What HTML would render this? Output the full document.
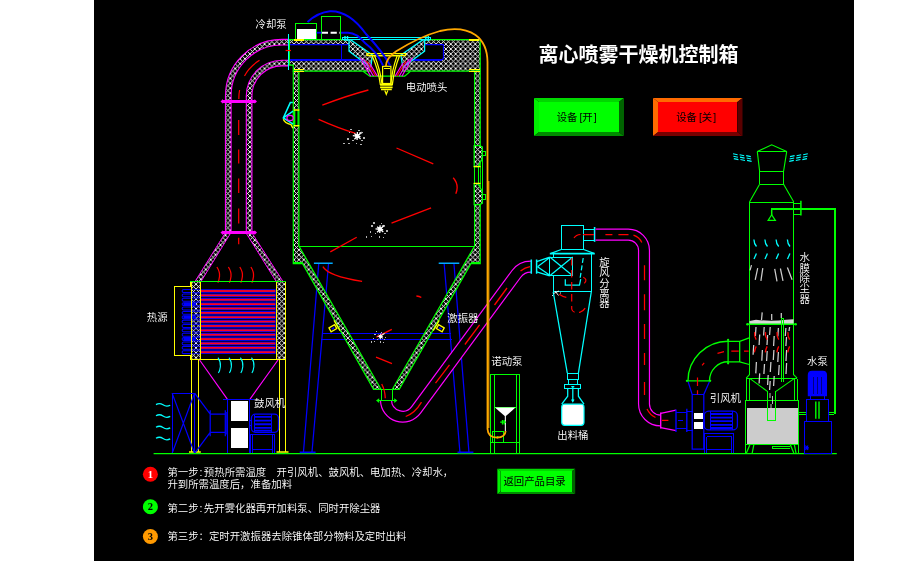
<!DOCTYPE html>
<html lang="zh"><head><meta charset="utf-8"><title>离心喷雾干燥机控制箱</title>
<style>
html,body{margin:0;padding:0;background:#fff;overflow:hidden}
body{width:899px;height:568px;position:relative;font-family:"Liberation Sans","Noto Sans CJK SC",sans-serif}
svg{position:absolute;left:0;top:0;display:block}
text{font-family:"Liberation Sans","Noto Sans CJK SC",sans-serif}
.lb{font-size:10.4px;fill:#fff;font-weight:350}
text{filter:grayscale(1)}
.g{stroke:#0f0;fill:none}.y{stroke:#ff0;fill:none}.b{stroke:#00f;fill:none}
.m{stroke:#f0f;fill:none}.c{stroke:#0ff;fill:none}.r{stroke:#f00;fill:none}
.o{stroke:#ffb000;fill:none}.w{stroke:#ddd;fill:none}
.h{fill:url(#hatch)}
</style></head><body>
<svg shape-rendering="geometricPrecision" width="899" height="568" viewBox="0 0 899 568">
<defs>
<pattern id="hatch" width="4.9" height="4.9" patternUnits="userSpaceOnUse">
<rect width="4.9" height="4.9" fill="#000"/>
<path d="M0 0L4.9 4.9M4.9 0L0 4.9" stroke="#fff" stroke-width="0.92"/>
</pattern>
</defs>
<rect shape-rendering="crispEdges" stroke-width="1" x="94" y="0" width="760" height="561" fill="#000"/>

<g id="hotpipe" fill="none" shape-rendering="geometricPrecision">
<path d="M288.3 52.6L282 52.6A43.3 43.3 0 0 0 238.7 95.9L238.7 233" stroke="#f0f" stroke-width="27.6"/>
<path d="M288.3 52.6L282 52.6A43.3 43.3 0 0 0 238.7 95.9L238.7 233" stroke="url(#hatch)" stroke-width="25.4"/>
<path d="M288.3 52.6L282 52.6A43.3 43.3 0 0 0 238.7 95.9L238.7 233" stroke="#f0f" stroke-width="16.3"/>
<path d="M288.3 52.6L282 52.6A43.3 43.3 0 0 0 238.7 95.9L238.7 233" stroke="#000" stroke-width="14.1"/>
<path class="m h" d="M225.2 233L230.7 233L201 281.5L195 281.5Z"/>
<path class="m h" d="M246.1 233L252 233L283 281.5L276.2 281.5Z"/>
<path d="M222.5 101.4L255 101.4" stroke="#f0f" stroke-width="3"/>
<path d="M220.5 101.4l2.5 -2.3v4.6zM257 101.4l-2.5 -2.3v4.6z" fill="#f0f"/>
<path d="M222.5 232.6L255 232.6" stroke="#f0f" stroke-width="3"/>
<path d="M220.5 232.6l2.5 -2.3v4.6zM257 232.6l-2.5 -2.3v4.6z" fill="#f0f"/>
<path class="r" stroke-width="1.2" d="M259.5 60.2Q249 67 244.5 76M239.6 90Q238.8 94 238.8 99M238.7 120V135M238.7 149.4V163.6M238.7 178.6V193M238.7 208.4V223.4M238.7 237.7V244.3"/>
<g shape-rendering="geometricPrecision">
<path class="r" stroke-width="1.25" d="M216.9 267q3.2 5 2.6 9.5t-1.6 6.3"/>
<path class="r" stroke-width="1.25" d="M228.4 267q3.2 5 2.6 9.5t-1.6 6.3"/>
<path class="r" stroke-width="1.25" d="M239.8 267q3.2 5 2.6 9.5t-1.6 6.3"/>
<path class="r" stroke-width="1.25" d="M250.9 267q3.2 5 2.6 9.5t-1.6 6.3"/>
</g>
</g>
<g id="heater" fill="none" stroke-width="1.25">
<g shape-rendering="geometricPrecision">
<rect shape-rendering="geometricPrecision" x="200.3" y="289.20" width="75.2" height="3.6" fill="#00f"/>
<rect shape-rendering="geometricPrecision" x="200.3" y="290.10" width="75.2" height="1.8" fill="#ff0018"/>
<rect shape-rendering="geometricPrecision" x="200.3" y="293.57" width="75.2" height="3.6" fill="#00f"/>
<rect shape-rendering="geometricPrecision" x="200.3" y="294.47" width="75.2" height="1.8" fill="#ff0018"/>
<rect shape-rendering="geometricPrecision" x="200.3" y="297.94" width="75.2" height="3.6" fill="#00f"/>
<rect shape-rendering="geometricPrecision" x="200.3" y="298.84" width="75.2" height="1.8" fill="#ff0018"/>
<rect shape-rendering="geometricPrecision" x="200.3" y="302.31" width="75.2" height="3.6" fill="#00f"/>
<rect shape-rendering="geometricPrecision" x="200.3" y="303.21" width="75.2" height="1.8" fill="#ff0018"/>
<rect shape-rendering="geometricPrecision" x="200.3" y="306.68" width="75.2" height="3.6" fill="#00f"/>
<rect shape-rendering="geometricPrecision" x="200.3" y="307.58" width="75.2" height="1.8" fill="#ff0018"/>
<rect shape-rendering="geometricPrecision" x="200.3" y="311.05" width="75.2" height="3.6" fill="#00f"/>
<rect shape-rendering="geometricPrecision" x="200.3" y="311.95" width="75.2" height="1.8" fill="#ff0018"/>
<rect shape-rendering="geometricPrecision" x="200.3" y="315.42" width="75.2" height="3.6" fill="#00f"/>
<rect shape-rendering="geometricPrecision" x="200.3" y="316.32" width="75.2" height="1.8" fill="#ff0018"/>
<rect shape-rendering="geometricPrecision" x="200.3" y="319.79" width="75.2" height="3.6" fill="#00f"/>
<rect shape-rendering="geometricPrecision" x="200.3" y="320.69" width="75.2" height="1.8" fill="#ff0018"/>
<rect shape-rendering="geometricPrecision" x="200.3" y="324.16" width="75.2" height="3.6" fill="#00f"/>
<rect shape-rendering="geometricPrecision" x="200.3" y="325.06" width="75.2" height="1.8" fill="#ff0018"/>
<rect shape-rendering="geometricPrecision" x="200.3" y="328.53" width="75.2" height="3.6" fill="#00f"/>
<rect shape-rendering="geometricPrecision" x="200.3" y="329.43" width="75.2" height="1.8" fill="#ff0018"/>
<rect shape-rendering="geometricPrecision" x="200.3" y="332.90" width="75.2" height="3.6" fill="#00f"/>
<rect shape-rendering="geometricPrecision" x="200.3" y="333.80" width="75.2" height="1.8" fill="#ff0018"/>
<rect shape-rendering="geometricPrecision" x="200.3" y="337.27" width="75.2" height="3.6" fill="#00f"/>
<rect shape-rendering="geometricPrecision" x="200.3" y="338.17" width="75.2" height="1.8" fill="#ff0018"/>
<rect shape-rendering="geometricPrecision" x="200.3" y="341.64" width="75.2" height="3.6" fill="#00f"/>
<rect shape-rendering="geometricPrecision" x="200.3" y="342.54" width="75.2" height="1.8" fill="#ff0018"/>
<rect shape-rendering="geometricPrecision" x="200.3" y="346.01" width="75.2" height="3.6" fill="#00f"/>
<rect shape-rendering="geometricPrecision" x="200.3" y="346.91" width="75.2" height="1.8" fill="#ff0018"/>
<rect shape-rendering="geometricPrecision" x="200.3" y="350.38" width="75.2" height="3.6" fill="#00f"/>
<rect shape-rendering="geometricPrecision" x="200.3" y="351.28" width="75.2" height="1.8" fill="#ff0018"/>
<path class="b" stroke-width="0.9" d="M276 288.5V354"/>
</g>
<rect class="h" x="191.6" y="281.6" width="9" height="78.3" stroke="none"/>
<rect class="h" x="276.7" y="281.6" width="9" height="78.3" stroke="none"/>
<g shape-rendering="geometricPrecision" fill="none" stroke="#00f">
<path stroke-width="1.05" d="M191.6 289.55H183.6a1.45 1.45 0 0 0 0 2.9H191.6"/>
<path shape-rendering="geometricPrecision" stroke-width="0.8" d="M191.6 289.55H200.3M191.6 292.45H200.3"/>
<path stroke-width="1.05" d="M191.6 293.92H183.6a1.45 1.45 0 0 0 0 2.9H191.6"/>
<path shape-rendering="geometricPrecision" stroke-width="0.8" d="M191.6 293.92H200.3M191.6 296.82H200.3"/>
<path stroke-width="1.05" d="M191.6 298.29H183.6a1.45 1.45 0 0 0 0 2.9H191.6"/>
<path shape-rendering="geometricPrecision" stroke-width="0.8" d="M191.6 298.29H200.3M191.6 301.19H200.3"/>
<path stroke-width="1.05" d="M191.6 302.66H183.6a1.45 1.45 0 0 0 0 2.9H191.6"/>
<path shape-rendering="geometricPrecision" stroke-width="0.8" d="M191.6 302.66H200.3M191.6 305.56H200.3"/>
<path shape-rendering="geometricPrecision" stroke-width="2.6" d="M183.5 304.11H196"/>
<path stroke-width="1.05" d="M191.6 307.03H183.6a1.45 1.45 0 0 0 0 2.9H191.6"/>
<path shape-rendering="geometricPrecision" stroke-width="0.8" d="M191.6 307.03H200.3M191.6 309.93H200.3"/>
<path stroke-width="1.05" d="M191.6 311.40H183.6a1.45 1.45 0 0 0 0 2.9H191.6"/>
<path shape-rendering="geometricPrecision" stroke-width="0.8" d="M191.6 311.40H200.3M191.6 314.30H200.3"/>
<path stroke-width="1.05" d="M191.6 315.77H183.6a1.45 1.45 0 0 0 0 2.9H191.6"/>
<path shape-rendering="geometricPrecision" stroke-width="0.8" d="M191.6 315.77H200.3M191.6 318.67H200.3"/>
<path shape-rendering="geometricPrecision" stroke-width="2.6" d="M183.5 317.22H196"/>
<path stroke-width="1.05" d="M191.6 320.14H183.6a1.45 1.45 0 0 0 0 2.9H191.6"/>
<path shape-rendering="geometricPrecision" stroke-width="0.8" d="M191.6 320.14H200.3M191.6 323.04H200.3"/>
<path stroke-width="1.05" d="M191.6 324.51H183.6a1.45 1.45 0 0 0 0 2.9H191.6"/>
<path shape-rendering="geometricPrecision" stroke-width="0.8" d="M191.6 324.51H200.3M191.6 327.41H200.3"/>
<path stroke-width="1.05" d="M191.6 328.88H183.6a1.45 1.45 0 0 0 0 2.9H191.6"/>
<path shape-rendering="geometricPrecision" stroke-width="0.8" d="M191.6 328.88H200.3M191.6 331.78H200.3"/>
<path stroke-width="1.05" d="M191.6 333.25H183.6a1.45 1.45 0 0 0 0 2.9H191.6"/>
<path shape-rendering="geometricPrecision" stroke-width="0.8" d="M191.6 333.25H200.3M191.6 336.15H200.3"/>
<path stroke-width="1.05" d="M191.6 337.62H183.6a1.45 1.45 0 0 0 0 2.9H191.6"/>
<path shape-rendering="geometricPrecision" stroke-width="0.8" d="M191.6 337.62H200.3M191.6 340.52H200.3"/>
<path shape-rendering="geometricPrecision" stroke-width="2.6" d="M183.5 339.07H196"/>
<path stroke-width="1.05" d="M191.6 341.99H183.6a1.45 1.45 0 0 0 0 2.9H191.6"/>
<path shape-rendering="geometricPrecision" stroke-width="0.8" d="M191.6 341.99H200.3M191.6 344.89H200.3"/>
<path stroke-width="1.05" d="M191.6 346.36H183.6a1.45 1.45 0 0 0 0 2.9H191.6"/>
<path shape-rendering="geometricPrecision" stroke-width="0.8" d="M191.6 346.36H200.3M191.6 349.26H200.3"/>
<path stroke-width="1.05" d="M191.6 350.73H183.6a1.45 1.45 0 0 0 0 2.9H191.6"/>
<path shape-rendering="geometricPrecision" stroke-width="0.8" d="M191.6 350.73H200.3M191.6 353.63H200.3"/>
</g>
<path shape-rendering="crispEdges" stroke-width="1" class="y" d="M191.6 281.6V359.9M200.6 281.6V359.9M276.7 281.6V359.9M285.7 281.6V359.9"/>
<path shape-rendering="crispEdges" class="y" stroke-width="2" d="M191.2 282V286.8M191.2 355V360"/>
<path shape-rendering="crispEdges" stroke-width="1" class="y" d="M191.6 286.4H174.3V355.4H191.6"/>
<path shape-rendering="crispEdges" stroke-width="1" class="g" d="M190.4 281.6H286"/>
<path shape-rendering="crispEdges" stroke-width="1" class="y" d="M190 359.9H286"/>
<path shape-rendering="crispEdges" stroke-width="1" class="y" d="M191.3 360V452M198.5 360V452M279.4 360V452M285.8 360V452"/>
<path class="y" stroke-width="1.6" d="M189 452H200.8M276.5 452H288.5"/>
<g shape-rendering="geometricPrecision"><path class="m" stroke-width="1.15" d="M199.6 360L227.3 399.2M278 360L250 399.2"/></g>
<g shape-rendering="geometricPrecision">
<path class="c" stroke-width="1.1" d="M218.0 357.6q3 4.5 2.4 9t-2 6.4"/>
<path class="c" stroke-width="1.1" d="M229.0 357.6q3 4.5 2.4 9t-2 6.4"/>
<path class="c" stroke-width="1.1" d="M240.39999999999998 357.6q3 4.5 2.4 9t-2 6.4"/>
<path class="c" stroke-width="1.1" d="M251.5 357.6q3 4.5 2.4 9t-2 6.4"/>
</g>
</g>
<g id="blower" fill="none" stroke="#00f" stroke-width="1.25">
<rect shape-rendering="crispEdges" stroke-width="1" x="172.1" y="393.1" width="22.5" height="60.3"/>
<path d="M172.1 393.1L194.6 453.4M194.6 393.1L172.1 453.4"/>
<path d="M194.6 393.1L210.2 414.2M194.6 453.4L210.2 432.3M210.2 410.2V436.3M210.2 414.2H225.3M210.2 432.3H225.3M225.3 410.2V436.3M226.9 412V434.5"/>
<path shape-rendering="crispEdges" stroke-width="1" d="M223.3 399.2H254.4"/>
<rect shape-rendering="crispEdges" stroke-width="1" x="227.7" y="399.2" width="22.1" height="54.2"/>
<rect shape-rendering="crispEdges" stroke-width="1" x="230.9" y="401.2" width="17.5" height="19.4" fill="#fff" stroke="none"/>
<rect shape-rendering="crispEdges" stroke-width="1" x="230.9" y="428.3" width="17.5" height="19.7" fill="#fff" stroke="none"/>
<rect x="251.4" y="414.2" width="27.1" height="18.1" rx="4" stroke-width="1.3" shape-rendering="geometricPrecision"/>
<path shape-rendering="crispEdges" stroke-width="1" d="M249.8 420.5H251.4M249.8 425.5H251.4M271.4 414.2V432.3M254 414.5V432"/>
<path stroke-width="1.9" d="M254.4 416.9H271.4M254.4 420.6H271.4M254.4 424.3H271.4M254.4 427.9H271.4M254.4 430.6H271.4"/>
<path shape-rendering="crispEdges" stroke-width="1" d="M250.4 434.3H274V453.4M250.4 434.3V453.4M252 434.3V453.4M272.4 434.3V453.4M252 449.7H272.4"/>
</g>
<g shape-rendering="geometricPrecision">
<path class="c" stroke-width="1.3" d="M156 404.6q3.5 -2.2 7 0.2t7.2 0.4"/>
<path class="c" stroke-width="1.3" d="M156 415.8q3.5 -2.2 7 0.2t7.2 0.4"/>
<path class="c" stroke-width="1.3" d="M156 427.3q3.5 -2.2 7 0.2t7.2 0.4"/>
<path class="c" stroke-width="1.3" d="M156 438.3q3.5 -2.2 7 0.2t7.2 0.4"/>
</g>
<path class="g" stroke-width="1.3" d="M153.6 453.6H836.8"/>
<g id="tower" fill="none" stroke-width="1.25">
<g stroke="#00f">
<path d="M318.8 263L303.4 453M328.6 263L311.9 453M444.1 263L460 453M453.9 263L469 453"/>
<path stroke-width="1.4" d="M313.9 263.2H332.7M438.7 263.2H459.3" stroke="#0af"/>
<path shape-rendering="crispEdges" stroke-width="1" d="M321.9 333.5H451M321.4 339.6H451.5"/>
<path stroke-width="1.6" d="M299.7 452.4H315.6M457.5 452.4H473.4"/>
</g>
<path class="g h" d="M289.2 39.5H480.2V71.2H293.3V65.2H289.2Z"/>
<path d="M289.6 44.6H443.5V58.6L441.5 60H289.6Z" fill="#000" stroke="none"/>
<path class="b" d="M289.6 44.6H443.5V58.6L441 60.3"/>
<path shape-rendering="crispEdges" class="b" stroke-width="2" d="M289.6 60H361M441.5 60H413"/>
<path shape-rendering="crispEdges" stroke-width="1" class="b" d="M341.3 44.6V60"/>
<path class="g h" d="M293.3 71.2H298.9V246L381 389.3H373.6L302.6 263.6H293.3Z"/>
<path class="g h" d="M480.2 71.2H474.6V246L392.4 389.3H399.2L470.9 263.6H480.2Z"/>
<path shape-rendering="crispEdges" stroke-width="1" class="g" d="M293.3 262H302.5M480.2 262H471.2"/>
<path shape-rendering="crispEdges" stroke-width="1" class="g" d="M298.9 246H474.6"/>
<path shape-rendering="crispEdges" stroke-width="1" class="g" d="M373.6 389.3H399.2"/>
<path shape-rendering="crispEdges" stroke-width="1" class="c" d="M288.3 34V69.8"/>
<path shape-rendering="crispEdges" stroke-width="1" class="g" d="M289.2 38.8V65.2"/>
<path shape-rendering="crispEdges" stroke-width="1" class="y" d="M294 69.6H303.6M294 71.4H303.6M469 69.6H479.6M469 71.4H479.6"/>
<g shape-rendering="geometricPrecision" fill="none">
<rect shape-rendering="crispEdges" stroke-width="1" x="293.6" y="109.4" width="5" height="17.3" fill="#000"/>
<path class="c" stroke-width="1.5" d="M292.8 102.6H290.3L283.3 117.9L293.1 124.2M283.3 117.9L293.1 111.2"/>
<path class="y" stroke-width="1.3" d="M283.3 119.3Q284.5 123 291 124.6L292.8 128.1"/>
<ellipse cx="290.1" cy="118" rx="3.2" ry="2.6" stroke="#f0f" stroke-width="1.2"/>
<path class="g" stroke-width="1.5" d="M294.6 109.4V126.7M298.2 109.4V126.7"/>
<path class="y" stroke-width="1.5" d="M293.8 109.9H299.3M293.8 125.7H299.3"/>
</g>
<g shape-rendering="geometricPrecision" fill="none">
<rect shape-rendering="crispEdges" stroke-width="1" x="474.6" y="166.5" width="5.6" height="17.2" fill="#000"/>
<path class="g h" d="M474.2 145.6H479.4L482.3 146.8V158.5L478 166.5H474.2Z"/>
<path class="g h" d="M474.2 183.7H478L482.3 191.7V203.4L479.4 204.6H474.2Z"/>
<path shape-rendering="crispEdges" stroke-width="1" class="g" d="M482.3 146.8V203.4M474.9 166.5V183.7M478 166.5V183.7"/>
<path shape-rendering="crispEdges" stroke-width="1" class="g" d="M482.3 151.1H485.4V155.4H482.3M482.3 194.8H485.4V199.1H482.3"/>
<path class="y" stroke-width="1.3" d="M473.7 166.7H480.5M473.7 183.3H480.5"/>
</g>
<g stroke="#ff0" stroke-width="1.3" fill="none" shape-rendering="geometricPrecision">
<path d="M329 327.9L334.6 324.7L336.8 328.6L331.1 331.8Z"/>
<path d="M444.2 327.9L438.6 324.7L436.4 328.6L442.1 331.8Z"/>
<path d="M334 320.3L340 330.6M439.2 320.3L433.2 330.6"/>
<path stroke="#00f" stroke-width="1.7" d="M331.8 329.1L334.2 327.6M441.4 329.1L439 327.6"/>
</g>
<path class="r" shape-rendering="geometricPrecision" stroke-width="1.3" d="M322.3 105.2Q346 96 368.4 90M318.6 119.3Q338 128 355.6 133.3M396.5 148L433.3 163.8M453.2 177.8Q459.5 185 455.8 193.7M431.1 207.8L391.5 223.2M356.7 237.2L330.3 251.9M322.9 266.6Q328 276 362.1 281.3M416.4 296Q419.5 296.2 421.3 297.6M391.8 329.3L376.4 337.2M376 357.2L392 363.6M381.7 384Q385 390 385.3 398.3"/>
</g>
<g shape-rendering="geometricPrecision" transform="translate(358 135.4) scale(1.0) translate(-358 -135.4)"><circle cx="357.2" cy="136.0" r="2.3" fill="#dcdcdc"/><path stroke="#fff" stroke-width="1.3" fill="none" d="M352.8 135.70000000000002L360.5 136.6M357.4 132.1L357.1 140.0M354.4 133.6L360.6 139.0M361.6 132.20000000000002L354.4 139.20000000000002"/><path stroke="#e0e0e0" stroke-width="1.5" fill="none" d="M359.2 133.20000000000002L362.2 132.6"/><rect shape-rendering="crispEdges" stroke-width="1" x="343.25" y="142.95" width="1.5" height="1.5" fill="#b4b4b4"/><rect shape-rendering="crispEdges" stroke-width="1" x="348.05" y="142.65" width="1.5" height="1.5" fill="#b4b4b4"/><rect shape-rendering="crispEdges" stroke-width="1" x="347.15" y="138.15" width="1.5" height="1.5" fill="#b4b4b4"/><rect shape-rendering="crispEdges" stroke-width="1" x="352.25" y="139.65" width="1.5" height="1.5" fill="#b4b4b4"/><rect shape-rendering="crispEdges" stroke-width="1" x="355.85" y="142.95" width="1.5" height="1.5" fill="#b4b4b4"/><rect shape-rendering="crispEdges" stroke-width="1" x="360.05" y="143.55" width="1.5" height="1.5" fill="#b4b4b4"/><rect shape-rendering="crispEdges" stroke-width="1" x="363.35" y="137.25" width="1.5" height="1.5" fill="#b4b4b4"/><rect shape-rendering="crispEdges" stroke-width="1" x="361.35" y="139.65" width="1.5" height="1.5" fill="#b4b4b4"/><rect shape-rendering="crispEdges" stroke-width="1" x="350.45" y="128.95" width="1.5" height="1.5" fill="#b4b4b4"/><rect shape-rendering="crispEdges" stroke-width="1" x="348.65" y="131.95" width="1.5" height="1.5" fill="#b4b4b4"/><rect shape-rendering="crispEdges" stroke-width="1" x="358.25" y="129.75" width="1.5" height="1.5" fill="#b4b4b4"/><rect shape-rendering="crispEdges" stroke-width="1" x="361.25" y="131.65" width="1.5" height="1.5" fill="#b4b4b4"/></g>
<g shape-rendering="geometricPrecision" transform="translate(380.7 228.5) scale(1.0) translate(-380.7 -228.5)"><circle cx="379.9" cy="229.1" r="2.3" fill="#dcdcdc"/><path stroke="#fff" stroke-width="1.3" fill="none" d="M375.5 228.8L383.2 229.7M380.09999999999997 225.2L379.8 233.1M377.09999999999997 226.7L383.3 232.1M384.3 225.3L377.09999999999997 232.3"/><path stroke="#e0e0e0" stroke-width="1.5" fill="none" d="M381.9 226.3L384.9 225.7"/><rect shape-rendering="crispEdges" stroke-width="1" x="365.95" y="236.05" width="1.5" height="1.5" fill="#b4b4b4"/><rect shape-rendering="crispEdges" stroke-width="1" x="370.75" y="235.75" width="1.5" height="1.5" fill="#b4b4b4"/><rect shape-rendering="crispEdges" stroke-width="1" x="369.85" y="231.25" width="1.5" height="1.5" fill="#b4b4b4"/><rect shape-rendering="crispEdges" stroke-width="1" x="374.95" y="232.75" width="1.5" height="1.5" fill="#b4b4b4"/><rect shape-rendering="crispEdges" stroke-width="1" x="378.55" y="236.05" width="1.5" height="1.5" fill="#b4b4b4"/><rect shape-rendering="crispEdges" stroke-width="1" x="382.75" y="236.65" width="1.5" height="1.5" fill="#b4b4b4"/><rect shape-rendering="crispEdges" stroke-width="1" x="386.05" y="230.35" width="1.5" height="1.5" fill="#b4b4b4"/><rect shape-rendering="crispEdges" stroke-width="1" x="384.05" y="232.75" width="1.5" height="1.5" fill="#b4b4b4"/><rect shape-rendering="crispEdges" stroke-width="1" x="373.15" y="222.05" width="1.5" height="1.5" fill="#b4b4b4"/><rect shape-rendering="crispEdges" stroke-width="1" x="371.35" y="225.05" width="1.5" height="1.5" fill="#b4b4b4"/><rect shape-rendering="crispEdges" stroke-width="1" x="380.95" y="222.85" width="1.5" height="1.5" fill="#b4b4b4"/><rect shape-rendering="crispEdges" stroke-width="1" x="383.95" y="224.75" width="1.5" height="1.5" fill="#b4b4b4"/></g>
<g shape-rendering="geometricPrecision" transform="translate(381.2 336) scale(0.72) translate(-381.2 -336)"><circle cx="380.4" cy="336.6" r="2.3" fill="#dcdcdc"/><path stroke="#fff" stroke-width="1.3" fill="none" d="M376.0 336.3L383.7 337.2M380.59999999999997 332.7L380.3 340.6M377.59999999999997 334.2L383.8 339.6M384.8 332.8L377.59999999999997 339.8"/><path stroke="#e0e0e0" stroke-width="1.5" fill="none" d="M382.4 333.8L385.4 333.2"/><rect shape-rendering="crispEdges" stroke-width="1" x="366.45" y="343.55" width="1.5" height="1.5" fill="#b4b4b4"/><rect shape-rendering="crispEdges" stroke-width="1" x="371.25" y="343.25" width="1.5" height="1.5" fill="#b4b4b4"/><rect shape-rendering="crispEdges" stroke-width="1" x="370.35" y="338.75" width="1.5" height="1.5" fill="#b4b4b4"/><rect shape-rendering="crispEdges" stroke-width="1" x="375.45" y="340.25" width="1.5" height="1.5" fill="#b4b4b4"/><rect shape-rendering="crispEdges" stroke-width="1" x="379.05" y="343.55" width="1.5" height="1.5" fill="#b4b4b4"/><rect shape-rendering="crispEdges" stroke-width="1" x="383.25" y="344.15" width="1.5" height="1.5" fill="#b4b4b4"/><rect shape-rendering="crispEdges" stroke-width="1" x="386.55" y="337.85" width="1.5" height="1.5" fill="#b4b4b4"/><rect shape-rendering="crispEdges" stroke-width="1" x="384.55" y="340.25" width="1.5" height="1.5" fill="#b4b4b4"/><rect shape-rendering="crispEdges" stroke-width="1" x="373.65" y="329.55" width="1.5" height="1.5" fill="#b4b4b4"/><rect shape-rendering="crispEdges" stroke-width="1" x="371.85" y="332.55" width="1.5" height="1.5" fill="#b4b4b4"/><rect shape-rendering="crispEdges" stroke-width="1" x="381.45" y="330.35" width="1.5" height="1.5" fill="#b4b4b4"/><rect shape-rendering="crispEdges" stroke-width="1" x="384.45" y="332.25" width="1.5" height="1.5" fill="#b4b4b4"/></g>
<g id="atomizer" fill="none" stroke-width="1.25">
<path d="M349 39.6H424.6V51.2L403 67.3L400 76H372L370.7 67.3L349 51.2Z" fill="#000" stroke="none"/>
<path class="c h" d="M349 39.9V51.2L370.7 67.3L372.5 55L350.8 39.9Z"/>
<path class="c h" d="M424.6 39.9V51.2L402.8 67.3L400.9 55L422.7 39.9Z"/>
<path d="M363.1 71.2L369.7 76.2H404.7L410.4 71.2" class="g" fill="#000"/>
<path class="m" stroke-width="1.2" d="M360.3 57.8L370.7 76.2M363.3 58.8L373.5 76.2M412.3 57.8L401.9 76.2M409.3 58.8L399.2 76.2"/>
<path class="r" stroke-width="1.2" d="M366.6 61L375.8 76.2M406 61L396.8 76.2"/>
<path class="m" stroke-width="1.2" d="M369.5 63L377.5 76.2M403 63L395 76.2"/>
<path shape-rendering="crispEdges" stroke-width="1" class="c" d="M342.9 37.4H430.2V39.6H342.9Z"/>
<path class="c" stroke-width="1.4" d="M345 36V41M347.5 36V41M425.8 36V41M428.3 36V41"/>
<path d="M372 55.6Q378.5 70 380.3 84.3H392.4Q394 70 399.6 55.6Z" fill="#000" class="y"/>
<path class="y" stroke-width="1.3" d="M366.9 53.7H405.6V55.6H366.9Z"/>
<path class="y" d="M374.5 55.6Q380.3 70 382 84.3M397.2 55.6Q392 70 390.8 84.3"/>
<rect x="382.6" y="66.3" width="8.3" height="17.2" class="y" stroke-width="1.2"/>
<path shape-rendering="crispEdges" stroke-width="1" class="y" d="M384 68.8H389.5"/>
<path class="y" stroke-width="1.7" d="M380.1 85H392.6M380.1 87.3H392.6M381 89.5H391.8"/>
<path class="y" stroke-width="1.2" d="M384.8 90.5L386.3 94.3L387.8 90.5"/>
<path class="b" shape-rendering="geometricPrecision" stroke-width="2" d="M307.5 22Q318 12.5 330 11.3Q349 10.5 366 34Q383 52 390.2 65.6"/>
<path class="b" shape-rendering="geometricPrecision" stroke-width="2" d="M340 32.7H348Q357 33 365 43Q377 52 383 65.6"/>
</g>
<g id="coolpump" fill="none" stroke-width="1.25">
<rect shape-rendering="crispEdges" stroke-width="1" class="g" x="295" y="23" width="21.6" height="16.4"/>
<rect shape-rendering="crispEdges" stroke-width="1" x="296.6" y="29" width="19" height="9.6" fill="#fff"/>
<rect shape-rendering="crispEdges" stroke-width="1" class="g" x="321" y="16" width="19" height="23"/>
<path class="b" stroke-width="1.8" d="M316.6 32.7H321.6"/>
<path stroke="#fff" stroke-width="1.9" d="M321.8 32.7H340" stroke-dasharray="6.2 2.6"/>
</g>
<path shape-rendering="crispEdges" class="y" stroke-width="2" d="M294 40H303.6M469 40H479.4"/>
<path class="r" stroke-width="1.2" d="M285.6 50.5H291"/>
<g id="hose" fill="none" shape-rendering="geometricPrecision">
<path d="M386.0 400.5A16.7 16.7 0 0 0 416.1 409.9L516.3 274.0A18.0 18.0 0 0 1 530.8 266.7L531.3 266.7" stroke="#f0f" stroke-width="12.2"/>
<path d="M386.0 400.5A16.7 16.7 0 0 0 416.1 409.9L516.3 274.0A18.0 18.0 0 0 1 530.8 266.7L531.3 266.7" stroke="#000" stroke-width="9.8"/>
<path class="r" stroke-width="1.3" d="M405.7 416.5Q415 413.3 421.5 402.2M435.5 383.1L449.5 364.8M464.9 344.5L479.6 324.9M494.5 305L507 288M520.5 271Q525 267.5 530 266.7"/>
</g>
<g id="ppump" fill="none" stroke-width="1.25">
<rect shape-rendering="crispEdges" stroke-width="1" class="g" x="490.5" y="374.5" width="29.2" height="78.9"/>
<path shape-rendering="crispEdges" stroke-width="1" class="g" d="M494.6 374.5V453M516.3 374.5V453M490.5 442.3H519.5M494.6 407.6H516.3"/>
<rect shape-rendering="crispEdges" stroke-width="1" class="g" x="492.4" y="431.5" width="11.2" height="10.8"/>
<path d="M494.9 407.6H515.5L505.3 416.6Z" fill="#fff" stroke="none" shape-rendering="geometricPrecision"/>
<path stroke="#ddd" stroke-width="1.2" d="M505.4 416V431"/>
<path class="g" stroke-width="1.3" d="M500.2 422.2H506M502.5 420V424.5M504.3 420V424.5"/>
<path class="g" stroke-width="1.2" d="M496.3 437.2H498.8M497.5 436V438.6"/>
</g>
<g shape-rendering="geometricPrecision" fill="none">
<path stroke="#c08200" stroke-width="1.5" d="M488.7 181V428"/>
<path stroke="#ffa800" stroke-width="1.8" d="M385.9 66.3Q386 58 396.2 51.2Q420 36.5 440 31Q462 26 475.5 35Q487.3 43.5 487.5 62V429Q488 437.6 497 437.6Q505.3 437.4 505.6 431"/>
</g>
<path shape-rendering="crispEdges" stroke-width="1" class="g" d="M381 389.3V400.6M392.2 389.3V400.6M378.5 400.6H395"/>
<path d="M376 400.6l3.2 -2.4v4.8zM397.4 400.6l-3.2 -2.4v4.8z" fill="#0f0"/>
<g id="cyclone" fill="none" stroke="#0ff" stroke-width="1.25">
<rect shape-rendering="crispEdges" stroke-width="1" x="561.2" y="225" width="22.5" height="24.5"/>
<path shape-rendering="crispEdges" stroke-width="1" d="M583.7 229.4H594.4M583.7 240.1H594.4"/>
<path stroke-width="1.6" d="M594.6 227V241.8"/>
<path d="M561.2 249.5L551 253.3M583.7 249.5L594 253.3"/>
<path stroke-width="1.7" d="M549.8 253.7H594.8"/>
<path shape-rendering="crispEdges" stroke-width="1" d="M553.2 253.7V291.9H591.3V253.7"/>
<rect shape-rendering="crispEdges" stroke-width="1" x="549.8" y="257.1" width="22.9" height="18.7" fill="#000"/>
<path d="M549.8 257.1L572.7 275.8M572.7 257.1L549.8 275.8"/>
<path d="M549.8 257.1L536.6 261.6M549.8 275.8L536.6 271.8M537.5 266.7L549.8 257.6M537.5 266.7L549.8 275.3"/>
<path stroke-width="1.5" d="M531.3 259.6V273.8M536.6 259.6V273.8"/>
<path d="M565.3 279.2V285.2H579.5L580.7 279.2"/>
<path d="M583.2 258L580 279" stroke-dasharray="5 2.5"/>
<path d="M553.2 291.9L567.3 373.1M591.3 291.9L578.4 373.1"/>
<rect shape-rendering="crispEdges" stroke-width="1" x="567.3" y="373.1" width="11.5" height="6"/>
<path shape-rendering="crispEdges" stroke-width="1" d="M568.3 379.1V384.7M577.8 379.1V384.7"/>
<rect shape-rendering="crispEdges" stroke-width="1" x="564.3" y="384.7" width="16.5" height="4"/>
<path d="M567.7 388.7V396.2L561.7 404.2M578.4 388.7V396.2L584 404.2"/>
<rect x="561.7" y="404.2" width="22.3" height="21.1" rx="3" fill="#fff" stroke-width="1.2" shape-rendering="geometricPrecision"/>
<path d="M572.8 386.1V401M571.3 386.5H574.3M571.6 399.5L572.8 401.5L574 399.5"/>
</g>
<path class="r" stroke-width="1.2" stroke-dasharray="7.5 4.5" d="M571.7 258V309Q572.5 313.5 580 312.3Q584 310.5 585.5 307.5"/>
<path class="r" stroke-width="1.2" d="M583.3 277.2Q588 279.5 584.3 283.3M559.2 294.3Q563 297 566.3 297.3"/>
<path stroke="#fff" stroke-width="0.9" d="M553.5 293.5L559 291M555 291L558.5 295.5M552 295.5H553M560 293H561"/>
<g id="duct" fill="none" shape-rendering="geometricPrecision">
<path d="M595.6 234.6H628.3A15.7 15.7 0 0 1 644 250.3V404A16.5 16.5 0 0 0 660.5 420.5" stroke="#f0f" stroke-width="12.1"/>
<path d="M595.6 234.6H628.3A15.7 15.7 0 0 1 644 250.3V404A16.5 16.5 0 0 0 660.5 420.5" stroke="#000" stroke-width="9.7"/>
<path class="r" stroke-width="1.25" d="M574 238Q576 234.8 580.5 234.5M583 234.5H594M605.4 234.5H612.4M618.4 234.5H628.5M633.5 235.2Q639.5 237.5 641.8 242.5M644.5 265.2V280.2M644.5 294.3V310.3M644.5 324V339M644.5 353V365M644.5 382V395M647 409Q650 415 655.5 417.5"/>
</g>
<g id="fan" fill="none" stroke-width="1.25">
<path class="m" d="M660.7 413.3L676 410.2M660.7 427.6L676 430.7"/>
<path class="m" stroke-width="1.4" d="M660.7 412.5V428.4"/>
<path class="r" stroke-width="1.2" d="M662 420.4H668.4"/>
<g stroke="#00f">
<path stroke-width="1.4" d="M676 409.4V431.9M686.8 408.7V431.9"/>
<path shape-rendering="crispEdges" stroke-width="1" d="M676 412H686.8M676 428.6H686.8M686.8 411H692.7M686.8 430H692.7M677.5 420.4H682.5"/>
<path d="M688 381.4L692.2 394.5V449H703.8V394.5L709.5 381.4"/>
<path shape-rendering="crispEdges" stroke-width="1" d="M692.2 394.5H703.8"/>
<rect shape-rendering="crispEdges" stroke-width="1" x="694" y="412.6" width="9" height="6.4" fill="#fff" stroke="none"/>
<rect shape-rendering="crispEdges" stroke-width="1" x="694" y="422.2" width="9" height="6.4" fill="#fff" stroke="none"/>
<rect x="704.2" y="411.2" width="33.2" height="18.7" rx="4.5" stroke-width="1.3" shape-rendering="geometricPrecision"/>
<path shape-rendering="crispEdges" stroke-width="1" d="M710.6 411.2V429.9M732.3 411.2V429.9"/>
<path stroke-width="1.8" d="M711 414H732M711 417.6H732M711 421.2H732M711 424.8H732M711 428H732"/>
<path shape-rendering="crispEdges" stroke-width="1" d="M704.2 433H733.6V453M704.2 433V453M706.5 436.5H731.5M706.5 436.5V453M731.5 436.5V453M706.5 449.5H731.5"/>
</g>
<g shape-rendering="geometricPrecision" stroke="#0f0" stroke-width="1.4">
<path d="M688 380.8A40.1 39.5 0 0 1 728.1 341.3M709.5 380.8A18.6 19 0 0 1 728.1 361.8"/>
</g>
<path class="g" d="M686.9 380.8H710.2M728.1 339.8V363.3M739.7 341.3V361.8M728.1 341.3H739.7M728.1 361.8H739.7M739.7 341.3L749.2 337.9M739.7 361.8L749.2 364.5"/>
<circle cx="686.9" cy="380.8" r="1.1" fill="#0f0"/><circle cx="710.2" cy="380.8" r="1.1" fill="#0f0"/><circle cx="728.1" cy="339.8" r="1.1" fill="#0f0"/><circle cx="728.1" cy="363.3" r="1.1" fill="#0f0"/>
<path class="r" stroke-width="1.2" d="M717.5 353.3L724 351.7M731.3 351.2H738.7M744 351.2H748.6M702.1 365.4L704.2 362.8M697.5 377.6V386M697.5 390.3V394.5"/>
</g>
<g id="scrubber" fill="none" stroke="#0f0" stroke-width="1.25">
<g shape-rendering="geometricPrecision" stroke-width="1.1">
<path d="M757.3 151.6L771.7 144.8L786.7 151.6M757.3 151.6L759.6 171.1M786.7 151.6L783.6 171.1M759.6 184.3L749.5 202.1M783.6 184.3L793.8 202.1"/>
</g>
<path shape-rendering="crispEdges" stroke-width="1" d="M757.3 151.6H786.7M759.6 171.1H783.6M759.6 171.1V184.3M783.6 171.1V184.3M759.6 184.3H783.6M749.5 202.1H793.8"/>
<path shape-rendering="crispEdges" stroke-width="1" d="M749.5 202.1V374.5M793.6 202.1V374.5"/>
<path shape-rendering="crispEdges" stroke-width="1" d="M793.8 203.5H800.9M793.8 214.2H800.9"/>
<path stroke-width="1.5" d="M800.9 200.8V215.4"/>
<path shape-rendering="crispEdges" stroke-width="2" d="M771 208.5H835.3M835.3 207.5V413.5"/>
<path stroke-width="1.5" d="M771.7 208.5V215"/>
<path shape-rendering="geometricPrecision" stroke-width="1.2" d="M771.7 214.8L768.1 220.4H775.4Z"/>
<path d="M749.5 321L756 319.8Q771 321.5 786 319.8L793.6 319.2V323.9H749.5Z" fill="#d8d8d8" stroke="none" shape-rendering="geometricPrecision"/>
<path stroke-width="1.6" d="M747.5 324.2H795.5"/>
<circle cx="747.4" cy="324.2" r="1.2" fill="#0f0" stroke="none"/><circle cx="795.7" cy="324.2" r="1.2" fill="#0f0" stroke="none"/>
<path shape-rendering="crispEdges" stroke-width="1" d="M781.7 318V382M783.7 318V382M781.7 318H783.7"/>
<path shape-rendering="crispEdges" stroke-width="1" d="M746.2 378.6V400.9M797.1 378.6V400.9M749.8 378.6V400.9M794.1 378.6V400.9M746.2 378.6H797.1"/>
<g shape-rendering="geometricPrecision" stroke-width="1.15"><path d="M749.5 374.7L746.2 378.2M793.6 374.7L797.1 378.2M750 378.6L767.4 391.4M794.1 378.6L776 391.4"/></g>
<path shape-rendering="crispEdges" stroke-width="1" d="M767.6 391.4V420.3H775.7V391.4"/>
<rect shape-rendering="crispEdges" stroke-width="1" x="746.6" y="407.8" width="51" height="35.8" fill="#ccc" stroke="none"/>
<rect shape-rendering="crispEdges" stroke-width="1" x="745.7" y="400.9" width="52.7" height="43.1"/>
<path shape-rendering="crispEdges" stroke-width="1" d="M767.6 407.8V420.3H775.7V407.8"/>
<g shape-rendering="geometricPrecision"><path d="M750.2 444L746.4 453M754 444L752.2 453M790 444L793.8 453M794.2 444L796 453"/></g>
<path shape-rendering="crispEdges" stroke-width="1" d="M745.6 444V453M798.3 444V453M772 446.2H790M772 448H790M772 446.2V448"/>
<path shape-rendering="crispEdges" stroke-width="1" d="M798.5 412.2H806.3M798.5 414.3H806.3M828.9 412.2H834M828.9 414.6H834"/>
<path stroke="#0f0" stroke-width="1.4" d="M815.8 401.5V418.8M819 401.5V418.8"/>
</g>
<g stroke="#0ff" stroke-width="1.15" fill="none" shape-rendering="geometricPrecision">
<path d="M733.0 153.8L737.6 154.8"/>
<path d="M739.6 154.7L744.2 155.7"/>
<path d="M746.2 155.6L750.8 156.6"/>
<path d="M733.4 156.2L738.0 157.2"/>
<path d="M740.0 157.1L744.6 158.1"/>
<path d="M746.6 158.0L751.2 159.0"/>
<path d="M733.8 158.6L738.4 159.6"/>
<path d="M740.4 159.5L745.0 160.5"/>
<path d="M747.0 160.4L751.6 161.4"/>
<path d="M790.0 156.6L794.6 155.6"/>
<path d="M796.6 155.7L801.2 154.7"/>
<path d="M803.2 154.8L807.8 153.8"/>
<path d="M789.6 159.0L794.2 158.0"/>
<path d="M796.2 158.1L800.8 157.1"/>
<path d="M802.8 157.2L807.4 156.2"/>
<path d="M789.2 161.4L793.8 160.4"/>
<path d="M795.8 160.5L800.4 159.5"/>
<path d="M802.4 159.6L807.0 158.6"/>
</g>
<g stroke="#0ff" stroke-width="1.3" fill="none" shape-rendering="geometricPrecision">
<path d="M753.9000000000001 239.4Q754.0 243.5 756.5 246.5"/>
<path d="M756.4000000000001 253.6L754.0 259"/>
<path d="M764.9000000000001 239.4Q765.0 243.5 767.5 246.5"/>
<path d="M767.4000000000001 253.6L765.0 259"/>
<path d="M776.1 239.4Q776.1999999999999 243.5 778.6999999999999 246.5"/>
<path d="M778.6 253.6L776.1999999999999 259"/>
<path d="M787.4000000000001 239.4Q787.5 243.5 790.0 246.5"/>
<path d="M789.9000000000001 253.6L787.5 259"/>
</g>
<g stroke="#ccc" stroke-width="1.25" fill="none" shape-rendering="geometricPrecision">
<path d="M751.5 265.1L750 270.4M757.7 268.1L755.2 279.8M762.8 268.1L760.9 280.8M774.7 268.9L777 281.4M780.4 268.5L783 280.8M787.4 267.5L792.1 279.8"/>
<path d="M762.2 312.4L761.5 320M771.7 313.9V320M781.3 313V318"/>
</g>
<path stroke="#cfcfcf" stroke-width="1.25" fill="none" shape-rendering="geometricPrecision" d="M756 327L755.4 336M764.2 327L763.6 335.5M770.2 327L769.6 335M778.4 328L777.8 336.5M785.9 328L785.3 336M789.6 327L789.0 331M759.7 334.5L759.1 345M767.6 335L767.0 345M774.2 336L773.6 346M786.5 337L785.9 346M753.7 345L753.1 354.7M762.4 350L761.8 360.7M767.2 351L766.6 361M773.9 350L773.3 360M778.4 352L777.8 362M786.6 350L786.0 361M756.4 362L755.8 373.4M764.5 364L763.9 374M770.9 362L770.3 372M779.2 365L778.6 375M786.6 363L786.0 374M759.7 373.4L759.1 383.5M768.2 375L767.6 385M774.2 376L773.6 386M770.2 381L769.6 390"/>
<path stroke="#d0d0d0" stroke-width="0.9" fill="none" d="M770 393V398M772.5 396V404M771 404V411M773 409V415"/>
<g class="r" stroke-width="1.3" shape-rendering="geometricPrecision">
<path d="M754.6 332.2Q754.0 336 756.2 339.7M756.2 346.4Q754.9000000000001 349 754.4000000000001 352.4"/>
<path d="M765.5 332.2Q764.9 336 767.1 339.7M767.1 346.4Q765.8000000000001 349 765.3000000000001 352.4"/>
<path d="M777.1 332.2Q776.5 336 778.7 339.7M778.7 346.4Q777.4000000000001 349 776.9000000000001 352.4"/>
<path d="M788.0 332.2Q787.4 336 789.6 339.7M789.6 346.4Q788.3000000000001 349 787.8000000000001 352.4"/>
</g>
<g id="wpump" fill="none" stroke="#00f" stroke-width="1.25">
<path d="M808.4 395.6V375Q808.4 371.3 812 371.3H822.8Q826.4 371.3 826.4 375V395.6Z" fill="#00f"/>
<path shape-rendering="crispEdges" stroke-width="1" stroke="#000080" d="M813.5 376.5V394M817.4 376.5V394M821.3 376.5V394"/>
<path shape-rendering="crispEdges" stroke-width="1" d="M810.5 395.6V399.8M824.3 395.6V399.8"/>
<rect shape-rendering="crispEdges" stroke-width="1" x="806.3" y="399.8" width="22.6" height="21.2"/>
<rect shape-rendering="crispEdges" stroke-width="1" x="804.2" y="421" width="27.2" height="32.2"/>
<path stroke-width="1.2" d="M805.5 445.5L808 450M808 445.5L805.5 450M805 447.8H809"/>
</g>
<g id="labels" class="lb">
<text x="255.6" y="28.3">冷却泵</text>
<text x="405.8" y="91.2">电动喷头</text>
<text x="146.8" y="320.8">热源</text>
<text x="254.0" y="407.4">鼓风机</text>
<text x="447.3" y="321.8">激振器</text>
<text x="491.3" y="364.6">诺动泵</text>
<text x="557.3" y="439.4">出料桶</text>
<text x="709.8" y="401.6">引风机</text>
<text x="807.0" y="364.5">水泵</text>
<text x="599.3" y="266.0"><tspan x="599.3">旋</tspan><tspan x="599.3" dy="10.36">风</tspan><tspan x="599.3" dy="10.36">分</tspan><tspan x="599.3" dy="10.36">离</tspan><tspan x="599.3" dy="10.36">器</tspan></text>
<text x="799.5" y="261.2"><tspan x="799.5">水</tspan><tspan x="799.5" dy="10.36">膜</tspan><tspan x="799.5" dy="10.36">除</tspan><tspan x="799.5" dy="10.36">尘</tspan><tspan x="799.5" dy="10.36">器</tspan></text>
</g>
<text x="538.4" y="61.6" font-size="20px" font-weight="bold" fill="#fff">离心喷雾干燥机控制箱</text>
<g id="buttons" shape-rendering="geometricPrecision">
<path d="M534 98H624L618.8 102H539.2Z" fill="#00d800"/><path d="M534 98L539.2 102V132L534 136Z" fill="#00f000"/><path d="M534 136L539.2 132H618.8L624 136Z" fill="#008c00"/><path d="M624 98V136L618.8 132V102Z" fill="#006400"/><rect shape-rendering="crispEdges" stroke-width="1" x="539.2" y="102" width="79.6" height="30" fill="#00ff00"/>
<path d="M653 98H742.5L737.3 102H658.2Z" fill="#ff6a00"/><path d="M653 98L658.2 102V132L653 136Z" fill="#ff6a00"/><path d="M653 136L658.2 132H737.3L742.5 136Z" fill="#780000"/><path d="M742.5 98V136L737.3 132V102Z" fill="#5a0000"/><rect shape-rendering="crispEdges" stroke-width="1" x="658.2" y="102" width="79.1" height="30" fill="#ff0000"/>
<path d="M497.4 468.8H575.1999999999999L571.9 471.2H500.7Z" fill="#00d800"/><path d="M497.4 468.8L500.7 471.2V491.6L497.4 494.0Z" fill="#00f000"/><path d="M497.4 494.0L500.7 491.6H571.9L575.1999999999999 494.0Z" fill="#008c00"/><path d="M575.1999999999999 468.8V494.0L571.9 491.6V471.2Z" fill="#006400"/><rect shape-rendering="crispEdges" stroke-width="1" x="500.7" y="471.2" width="71.2" height="20.4" fill="#00ff00"/>
</g>
<g font-size="10.4px" fill="#000">
<text x="556.7" y="121.3">设备<tspan dx="1.9">[</tspan>开<tspan dx="1.2">]</tspan></text>
<text x="676.2" y="121.3">设备<tspan dx="1.9">[</tspan>关<tspan dx="1.2">]</tspan></text>
<text x="503.4" y="484.8">返回产品目录</text>
</g>
<g shape-rendering="geometricPrecision">
<circle cx="150.4" cy="474.3" r="7.5" fill="#ff0000"/>
<text x="150.4" y="477.7" font-size="10.5px" font-weight="bold" text-anchor="middle" fill="#fff" style="font-family:'Liberation Serif',serif">1</text>
<circle cx="150.4" cy="506.8" r="7.5" fill="#00ff00"/>
<text x="150.4" y="510.2" font-size="10.5px" font-weight="bold" text-anchor="middle" fill="#000030" style="font-family:'Liberation Serif',serif">2</text>
<circle cx="150.4" cy="536.5" r="7.5" fill="#ff9900"/>
<text x="150.4" y="539.9" font-size="10.5px" font-weight="bold" text-anchor="middle" fill="#000030" style="font-family:'Liberation Serif',serif">3</text>
</g>
<g class="lb">
<text x="167.4" y="476.2" xml:space="preserve">第一步<tspan dx="1">:</tspan><tspan dx="1.4">预</tspan>热所需温度　开引风机、鼓风机、电加热、冷却水，</text>
<text x="167.4" y="487.9">升到所需温度后，准备加料</text>
<text x="167.4" y="512.0">第二步<tspan dx="1">:</tspan><tspan dx="1.4">先</tspan>开雾化器再开加料泵、同时开除尘器</text>
<text x="167.4" y="539.6">第三步：定时开激振器去除锥体部分物料及定时出料</text>
</g>
</svg>
</body></html>
